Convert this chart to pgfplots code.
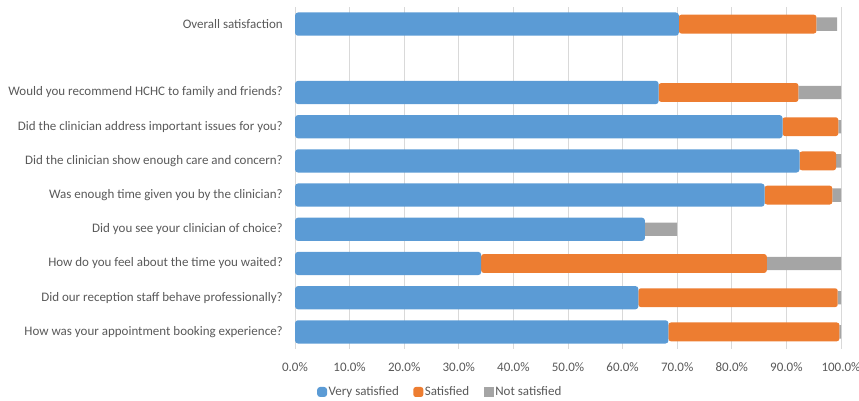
\documentclass[border=0pt]{standalone}
\usepackage{pgfplots}
\pgfplotsset{compat=1.18}
\usepackage{fontspec}
\setmainfont{Carlito}
\definecolor{cblue}{HTML}{5B9BD5}
\definecolor{corange}{HTML}{ED7D31}
\definecolor{cgray}{HTML}{A5A5A5}
\definecolor{ctext}{HTML}{595959}
\definecolor{cgrid}{HTML}{D9D9D9}
\begin{document}
\begin{tikzpicture}
\begin{axis}[
  set layers,
  at={(0pt,0pt)}, anchor=south west,
  scale only axis, width=546pt, height=342pt,
  xbar stacked,
  xmin=0, xmax=100, ymin=-0.5, ymax=9.5,
  axis line style={draw=none},
  major tick length=0pt,
  xmajorgrids, grid style={cgrid, line width=0.8pt},
  xtick={0,10,...,100},
  xticklabels={0.0\%,10.0\%,20.0\%,30.0\%,40.0\%,50.0\%,60.0\%,70.0\%,80.0\%,90.0\%,100.0\%},
  ytick={0,1,2,3,4,5,6,7,9},
  yticklabels={How was your appointment booking experience?,
    Did our reception staff behave professionally?,
    How do you feel about the time you waited?,
    Did you see your clinician of choice?,
    Was enough time given you by the clinician?,
    Did the clinician show enough care and concern?,
    Did the clinician address important issues for you?,
    Would you recommend HCHC to family and friends?,
    Overall satisfaction},
  tick label style={font=\fontsize{13}{15}\selectfont, text=ctext},
  yticklabel style={anchor=east, inner sep=0pt, xshift=-12pt},
  xticklabel style={anchor=north, inner sep=0pt, yshift=-13pt},
  legend style={at={(0.2656,-0.1257)}, anchor=center, draw=none, fill=none,
    font=\fontsize{13}{15}\selectfont, text=ctext, legend columns=3,
    /tikz/every even column/.append style={column sep=13pt},
    nodes={inner sep=1.5pt}},
  legend image code/.code={\fill[#1] (0pt,-5pt) rectangle (10pt,5pt);},
]
\addplot[fill=cblue, draw=none, bar width=0.68, rounded corners=3pt] coordinates {
(68.4,0) (62.9,1) (34.1,2) (64.1,3) (86.0,4) (92.4,5) (89.3,6) (66.6,7) (70.3,9)};
\addplot[fill=corange, draw=none, bar width=0.55, rounded corners=2.5pt] coordinates {
(31.3,0) (36.5,1) (52.3,2) (0,3) (12.4,4) (6.7,5) (10.2,6) (25.6,7) (25.2,9)};
\addplot[fill=cgray, draw=none, bar width=0.39, on layer=pre main] coordinates {
(0.3,0) (0.6,1) (13.6,2) (5.9,3) (1.6,4) (0.9,5) (0.5,6) (7.8,7) (3.8,9)};
\legend{Very satisfied,Satisfied,Not satisfied}
\end{axis}
\pgfresetboundingbox
\path[use as bounding box] (-295pt,-52pt) rectangle (564pt,349pt);
\end{tikzpicture}
\end{document}
